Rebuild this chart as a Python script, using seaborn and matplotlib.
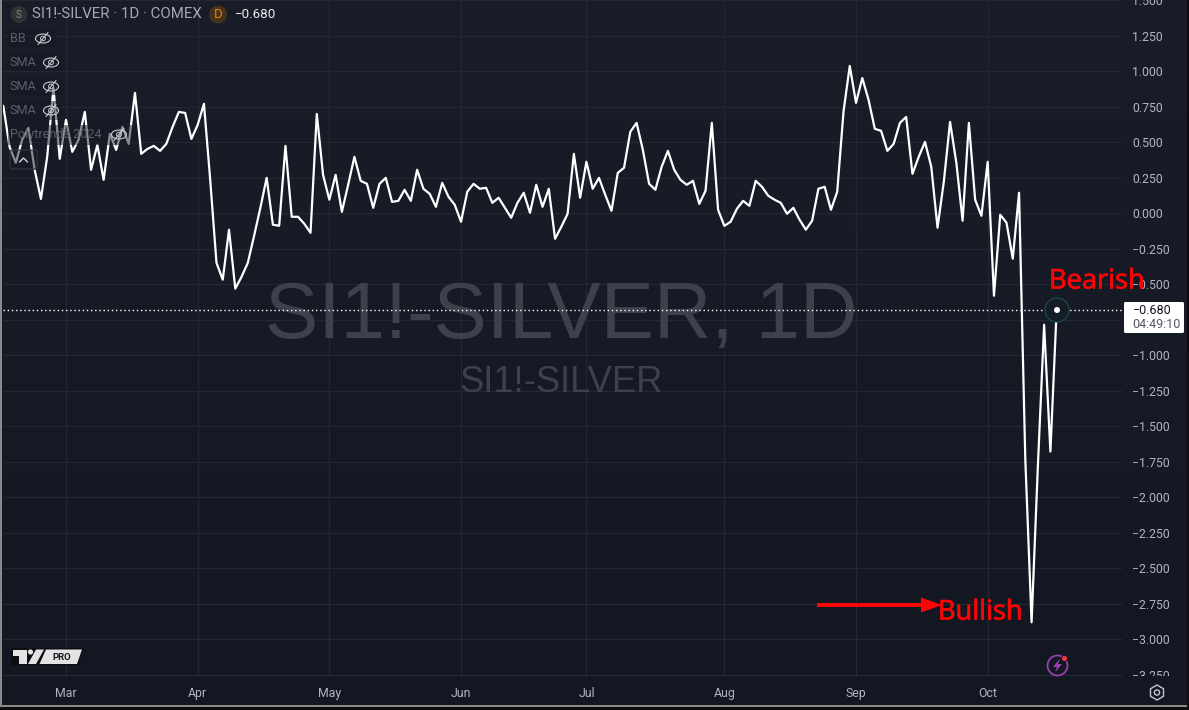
import numpy as np
import seaborn as sns
import matplotlib
matplotlib.use("Agg")
import matplotlib.pyplot as plt
import matplotlib.patheffects as pe
from matplotlib.colors import LinearSegmentedColormap
from matplotlib.patches import Circle, Ellipse, FancyBboxPatch, Polygon, Rectangle, RegularPolygon, FancyArrow
from matplotlib.transforms import Bbox, TransformedBbox

# ---------- data ----------
spread_values = [
    0.755, 0.466, 0.354, 0.515, 0.600, 0.305, 0.100, 0.396, 0.880, 0.382,
    0.656, 0.431, 0.515, 0.712, 0.305, 0.480, 0.234, 0.558, 0.445, 0.607,
    0.487, 0.846, 0.417, 0.452, 0.473, 0.438, 0.487, 0.607, 0.712, 0.705,
    0.522, 0.621, 0.769, 0.234, -0.350, -0.469, -0.117, -0.532, -0.448, -0.350,
    -0.160, 0.037, 0.248, -0.082, -0.089, 0.473, -0.026, -0.026, -0.075, -0.139,
    0.698, 0.269, 0.094, 0.269, 0.009, 0.199, 0.396, 0.227, 0.206, 0.037,
    0.206, 0.248, 0.079, 0.086, 0.164, 0.086, 0.305, 0.171, 0.136, 0.044,
    0.213, 0.115, 0.058, -0.061, 0.150, 0.206, 0.171, 0.178, 0.072, 0.108,
    0.037, -0.033, 0.072, 0.143, 0.002, 0.199, 0.044, 0.171, -0.181, -0.096,
    -0.005, 0.417, 0.108, 0.361, 0.171, 0.248, 0.129, 0.016, 0.283, 0.319,
    0.572, 0.635, 0.445, 0.206, 0.164, 0.326, 0.438, 0.305, 0.234, 0.199,
    0.227, 0.065, 0.157, 0.635, 0.023, -0.090, -0.061, 0.030, 0.086, 0.051,
    0.227, 0.185, 0.122, 0.094, 0.072, -0.005, 0.037, -0.047, -0.117, -0.054,
    0.171, 0.185, 0.023, 0.150, 0.712, 1.036, 0.776, 0.951, 0.797, 0.593,
    0.579, 0.438, 0.487, 0.635, 0.677, 0.276, 0.396, 0.501, 0.326, -0.103,
    0.220, 0.642, 0.354, -0.054, 0.635, 0.094, -0.019, 0.361, -0.582, -0.012,
    -0.068, -0.321, 0.143, -1.735, -2.881, -1.784, -0.786, -1.679, -0.680,
]
bar_index = list(range(len(spread_values)))
month_labels = ["Mar", "Apr", "May", "Jun", "Jul", "Aug", "Sep", "Oct"]
month_bars = [10, 31, 52, 73, 93, 115, 136, 157]
price_ticks = [1.5, 1.25, 1.0, 0.75, 0.5, 0.25, 0.0, -0.25, -0.5, -0.75, -1.0,
               -1.25, -1.5, -1.75, -2.0, -2.25, -2.5, -2.75, -3.0, -3.25]
price_labels = ["1.500", "1.250", "1.000", "0.750", "0.500", "0.250", "0.000",
                "\u22120.250", "\u22120.500", "\u22120.750", "\u22121.000", "\u22121.250",
                "\u22121.500", "\u22121.750", "\u22122.000", "\u22122.250", "\u22122.500",
                "\u22122.750", "\u22123.000", "\u22123.250"]
last_value = -0.680

W, H = 1189, 710
sns.set_theme(style="dark")
plt.rcParams["font.family"] = ["Roboto", "DejaVu Sans"]
GRID = "#232732"
AXTXT = "#b2b5be"

fig = plt.figure(figsize=(W / 100, H / 100), dpi=100)
fig.patch.set_facecolor("#131722")

# background gradient
bg = fig.add_axes([0, 0, 1, 1], zorder=0)
cmap = LinearSegmentedColormap.from_list("tv", ["#191d28", "#131722"])
bg.imshow(np.linspace(0, 1, 256)[:, None], aspect="auto", cmap=cmap)
bg.axis("off")

# main axes (pixel box 3..1122 x 0..677)
ax = fig.add_axes([3 / W, 1 - 677 / H, (1122 - 3) / W, 677 / H], zorder=1)
ax.patch.set_alpha(0)
sns.lineplot(x=bar_index, y=spread_values, ax=ax, color="white", linewidth=1.6,
             errorbar=None, zorder=3)
ax.set_xlim((3 - 3.3) / 6.27, (1122 - 3.3) / 6.27)
ax.set_ylim((212.6 - 677) / 142.2, 212.6 / 142.2)
ax.yaxis.tick_right()
ax.set_yticks(price_ticks, price_labels)
ax.set_xticks(month_bars, month_labels)
ax.tick_params(axis="both", length=0, colors=AXTXT, labelsize=8.8)
ax.tick_params(axis="y", pad=7.2, labelcolor=AXTXT)
ax.tick_params(axis="x", pad=7.5)
ax.grid(True, color=GRID, linewidth=0.9)
ax.set_axisbelow(True)
for s in ax.spines.values():
    s.set_visible(False)
clip = TransformedBbox(Bbox([[0, (H - 676) / H], [1, 1]]), fig.transFigure)
for lab in ax.get_yticklabels():
    lab.set_clip_box(clip)
    lab.set_clip_on(True)
ax.axhline(last_value, color="white", linewidth=1.0, linestyle=(0, (1, 2)), zorder=2)

# watermark
WM = "#3d414c"
ax.text(0.4985, 1 - 318 / 677, "SI1!-SILVER, 1D", transform=ax.transAxes, ha="center", va="center",
        family="Liberation Sans", fontsize=57.4, color=WM, zorder=1)
ax.text(0.4985, 1 - 382 / 677, "SI1!-SILVER", transform=ax.transAxes, ha="center", va="center",
        family="Liberation Sans", fontsize=26.2, color=WM, zorder=1)

# overlay in pixel coordinates for chrome
ov = fig.add_axes([0, 0, 1, 1], zorder=2)
ov.set_xlim(0, W)
ov.set_ylim(H, 0)
ov.axis("off")

DIM = "#161a25"
for (x0, y0, x1, y1) in [(8, 29, 56, 47), (8, 53, 62, 71), (8, 77, 62, 95), (8, 101, 62, 120), (8, 125, 132, 145), (9, 150, 38, 170)]:
    ov.add_patch(Rectangle((x0, y0), x1 - x0, y1 - y0, fc=DIM, ec="none", alpha=0.5, zorder=1))


def eye(x, y):
    ov.add_patch(Ellipse((x, y), 15, 9, fc="none", ec="#c9cbd1", lw=0.8, zorder=3))
    ov.add_patch(Circle((x, y), 2.4, fc="none", ec="#c9cbd1", lw=0.7, zorder=3))
    ov.plot([x - 5, x + 5], [y + 6, y - 6], color="#c9cbd1", lw=0.8, zorder=3)


LEG = "#5b5e68"
for label, y, ex in [("BB", 38.5, 43), ("SMA", 62.5, 51), ("SMA", 86.5, 51), ("SMA", 110.5, 51)]:
    ov.text(10, y, label, color=LEG, fontsize=9.1, va="center", zorder=3)
    eye(ex, y)
ov.text(10, 134.5, "Polytrends 2024", color=LEG, fontsize=9.1, va="center", zorder=3)
eye(119, 134.5)
ov.add_patch(FancyBboxPatch((10, 150), 27, 19, boxstyle="round,pad=0,rounding_size=2", fc="none", ec="#343843", lw=0.8, zorder=3))
ov.plot([19.5, 23.5, 27.5], [162, 158, 162], color="#d5d6da", lw=1.0, zorder=3)

ov.add_patch(Circle((19, 14.5), 8.5, fc="#2f3133", ec="none"))
ov.text(19, 14.5, "S", color="#8a8a8a", fontsize=7, ha="center", va="center")
ov.text(32, 14.5, "SI1!-SILVER \u00b7 1D \u00b7 COMEX", color="#a6a9b2", fontsize=10.8, va="center")
ov.add_patch(Circle((218, 14.5), 9, fc="#43321f", ec="none"))
ov.text(218, 14.5, "D", color="#f57c00", fontsize=9.5, ha="center", va="center")
ov.text(235, 14.5, "\u22120.680", color="#eceef2", fontsize=9.6, va="center")

# last price marker
ox, oy = 1057, 310
ov.add_patch(Circle((ox, oy), 12, fc="#141c26", ec="#1d4a4a", lw=0.9, zorder=0.5))
ov.add_patch(Circle((ox, oy), 3, fc="white", ec="none", zorder=4))

# price label
ov.add_patch(FancyBboxPatch((1124, 302), 60, 31, boxstyle="round,pad=0,rounding_size=1.5", fc="white", ec="none", zorder=5))
ov.text(1133, 310.5, "\u22120.680", color="#131722", fontsize=9, va="center", zorder=6)
ov.text(1132, 325, "04:49:10", color="#555861", fontsize=9, va="center", zorder=6)

# annotations
RED = "#fb0505"
stroke = [pe.withStroke(linewidth=0.5, foreground=RED)]
ov.text(1049, 281.5, "Bearish", color=RED, fontsize=19.6, family="Open Sans", va="center", zorder=6, path_effects=stroke)
ov.text(938, 612.5, "Bullish", color=RED, fontsize=19.6, family="Open Sans", va="center", zorder=6, path_effects=stroke)
ov.add_patch(FancyArrow(817, 605, 125, 0, width=4, head_width=15, head_length=21,
                        length_includes_head=True, fc=RED, ec="none", zorder=6))

# lightning icon
ov.add_patch(Circle((1057.5, 665.5), 10, fc="none", ec="#9c3db0", lw=1.3, zorder=5))
ov.add_patch(Polygon([(1060, 658.5), (1053, 667), (1057, 667), (1055, 672.5), (1062, 664), (1058, 664)],
                     fc="#9c3db0", ec="none", zorder=5))
ov.add_patch(Circle((1064.5, 658.5), 3, fc="#f23645", ec="#131722", lw=0.6, zorder=6))

# TradingView logo
ov.add_patch(Polygon([(11, 648), (84, 648), (78, 665.5), (11, 665.5)], fc="#0c0e13", ec="none", zorder=3))
LOGO = "#e3e3e3"
ov.add_patch(Polygon([(13, 649.5), (27, 649.5), (27, 664), (19, 664), (19, 656), (13, 656)], fc=LOGO, ec="none", zorder=4))
ov.add_patch(Circle((30.5, 652), 2.6, fc=LOGO, ec="none", zorder=4))
ov.add_patch(Polygon([(36, 649.5), (44, 649.5), (36, 664), (28, 664)], fc=LOGO, ec="none", zorder=4))
ov.add_patch(Polygon([(46, 649.5), (82, 649.5), (77, 664), (39.5, 664)], fc=LOGO, ec="none", zorder=4))
ov.text(62, 657, "PRO", color="#131722", fontsize=6.8, fontweight="bold", ha="center", va="center", zorder=5)

# settings hexagon
ov.add_patch(RegularPolygon((1157, 692.5), 6, radius=7.5, fc="none", ec="#c5c7ce", lw=1.0, zorder=5))
ov.add_patch(Circle((1157, 692.5), 2.6, fc="none", ec="#c5c7ce", lw=1.0, zorder=5))

# window frame
ov.add_patch(Rectangle((0, 0), 2, 706, fc="#8a8a8a", ec="none", zorder=7))
ov.add_patch(Rectangle((0, 705), 1187, 2, fc="#8a8a8a", ec="none", zorder=7))
ov.add_patch(Rectangle((0, 707), W, 3, fc="#0d0d0d", ec="none", zorder=7))
ov.add_patch(Rectangle((1187, 0), 2, 710, fc="#0d0d0d", ec="none", zorder=7))

fig.savefig("out.png", dpi=100, facecolor=fig.get_facecolor())
